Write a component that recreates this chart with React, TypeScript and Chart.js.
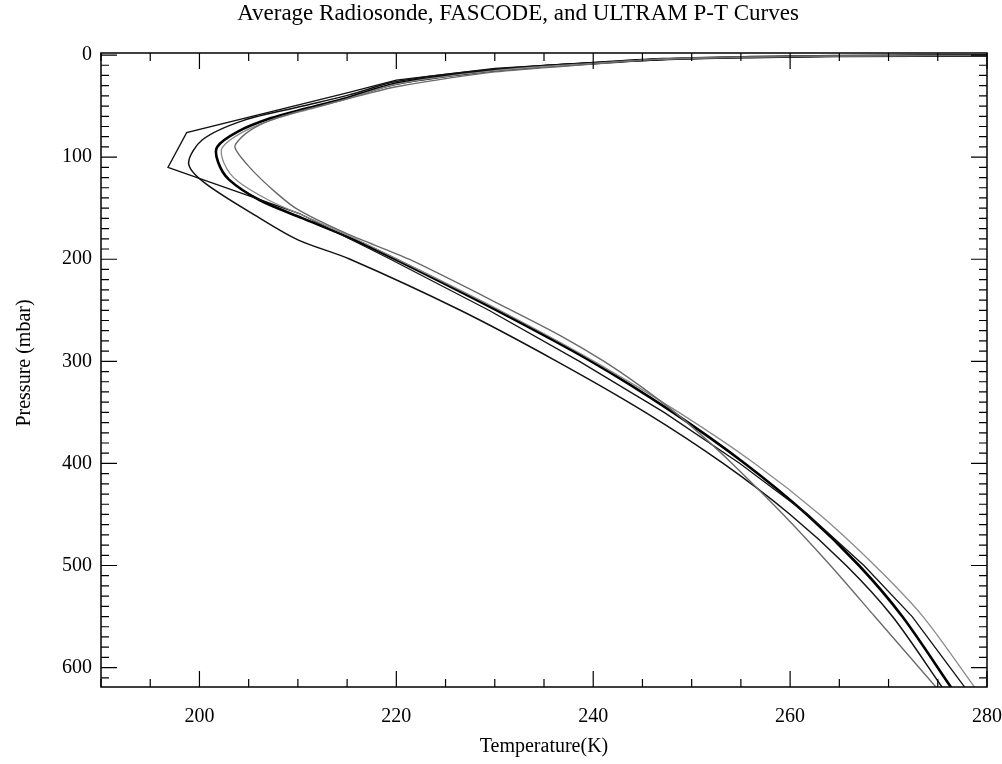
import React, { useEffect, useRef } from "react";
import { Chart, registerables } from "chart.js";

Chart.register(...registerables);

const TITLE = "Average Radiosonde, FASCODE, and ULTRAM P-T Curves";
const X_TITLE = "Temperature(K)";
const Y_TITLE = "Pressure (mbar)";

const xTickLabels = [200, 220, 240, 260, 280];
const yTickLabels = [0, 100, 200, 300, 400, 500, 600];

// FASCODE (piecewise levels)
const fascodeP = [0.3, 1, 2, 4, 7.2, 13, 24.5, 37, 76, 110, 155, 200, 250, 300, 350, 400, 450, 500, 550, 620];
const fascodeT = [281, 266, 257, 248, 240, 230, 220, 215, 198.7, 196.8, 210.1, 219.4, 229.4, 238.6, 247.2, 254.9, 261.8, 267.5, 272.4, 277.8];

// ULTRAM A (smooth, coldest in upper troposphere)
const ultramAP = [0.3, 1, 2, 4, 7.6, 14, 26, 39, 50, 64, 83, 106, 125, 159, 181, 200, 250, 300, 350, 400, 450, 500, 550, 620];
const ultramAT = [281, 265.5, 256.5, 247.5, 240, 230, 220, 215.2, 210.5, 204.5, 200.3, 198.9, 200.5, 206, 210, 215.3, 226.5, 236.3, 245.3, 253.2, 260.0, 265.7, 270.4, 275.5];

// Average radiosonde (thick)
const radioP = [0.3, 1, 2, 4, 8, 15, 28, 42, 52, 62, 75, 90, 105, 122, 142, 160, 178, 200, 250, 300, 350, 400, 450, 500, 550, 620];
const radioT = [281, 265, 256, 247, 240, 230, 220, 215, 211, 207.2, 203.9, 201.8, 201.9, 203, 206.1, 210.5, 215, 219.9, 230.2, 239.8, 248.1, 255.4, 261.7, 267.0, 271.4, 276.4];

// ULTRAM B (sharp minimum, warm aloft)
const ultramBP = [0.3, 1, 2, 4, 8.8, 16.5, 31, 39, 47, 56, 65, 77, 90, 110, 135, 152, 176, 200, 250, 275, 300, 325, 350, 375, 400, 450, 500, 550, 620];
const ultramBT = [281, 264, 255, 246.5, 240, 230, 220, 216.6, 213.4, 209.8, 206.9, 204.7, 203.6, 205.1, 207.8, 210.1, 215.2, 221.3, 231.7, 236.7, 241.1, 244.9, 248.3, 251.3, 254.1, 259.3, 264.1, 268.6, 274.9];

// ULTRAM C (near radiosonde aloft, warmest near surface)
const ultramCP = [0.3, 1, 2, 4, 8.2, 15.3, 28.5, 43, 53, 63, 76, 91, 106, 123, 142, 160, 178, 200, 250, 300, 350, 400, 450, 500, 550, 620];
const ultramCT = [281, 265, 256, 247, 240, 230, 220, 215, 211.2, 207.5, 204.3, 202.3, 202.5, 203.8, 207, 211.2, 215.4, 220.1, 230.5, 240.1, 248.7, 256.4, 263.0, 268.6, 273.5, 278.8];

const FONT = "'Liberation Serif', 'Times New Roman', serif";

const toPts = (t: number[], p: number[]) => t.map((v, i) => ({ x: v, y: p[i] }));

const framePlugin = {
  id: "idlFrame",
  afterDraw(chart: any) {
    const { ctx, chartArea } = chart;
    const { left, right, top, bottom } = chartArea;
    const xs = chart.scales.x;
    const ys = chart.scales.y;
    ctx.save();
    ctx.strokeStyle = "#000";
    ctx.lineWidth = 1.5;
    ctx.strokeRect(left, top, right - left, bottom - top);
    ctx.lineWidth = 1.2;
    ctx.beginPath();
    for (let v = 190; v <= 280; v += 5) {
      const px = xs.getPixelForValue(v);
      const len = v % 20 === 0 ? 16 : 8;
      ctx.moveTo(px, bottom);
      ctx.lineTo(px, bottom - len);
      ctx.moveTo(px, top);
      ctx.lineTo(px, top + len);
    }
    for (let v = 0; v <= 610; v += 10) {
      const py = ys.getPixelForValue(v);
      const len = v % 100 === 0 ? 16 : 8;
      ctx.moveTo(left, py);
      ctx.lineTo(left + len, py);
      ctx.moveTo(right, py);
      ctx.lineTo(right - len, py);
    }
    ctx.stroke();

    ctx.fillStyle = "#000";
    ctx.textAlign = "center";
    ctx.textBaseline = "middle";
    ctx.font = `23px ${FONT}`;
    ctx.fillText(TITLE, 518, 14);
    ctx.font = `20px ${FONT}`;
    ctx.fillText(X_TITLE, (left + right) / 2, 747);
    ctx.translate(25, 363);
    ctx.rotate(-Math.PI / 2);
    ctx.fillText(Y_TITLE, 0, 0);
    ctx.restore();
  },
};

export default function App() {
  const ref = useRef<HTMLCanvasElement | null>(null);
  useEffect(() => {
    if (!ref.current) return;
    const mk = (label: string, t: number[], p: number[], color: string, width: number, tension: number) => ({
      label,
      data: toPts(t, p),
      borderColor: color,
      backgroundColor: color,
      borderWidth: width,
      pointRadius: 0,
      tension,
      fill: false,
    });
    const chart = new Chart(ref.current, {
      type: "line",
      data: {
        datasets: [
          mk("ULTRAM B", ultramBT, ultramBP, "#6a6a6a", 1.4, 0.25),
          mk("ULTRAM C", ultramCT, ultramCP, "#8a8a8a", 1.3, 0.3),
          mk("ULTRAM A", ultramAT, ultramAP, "#111", 1.5, 0.3),
          mk("FASCODE", fascodeT, fascodeP, "#111", 1.3, 0),
          mk("Radiosonde", radioT, radioP, "#000", 2.6, 0.3),
        ],
      },
      options: {
        responsive: false,
        animation: false,
        layout: { padding: { left: 0, right: 15, top: 53, bottom: 0 } },
        plugins: { legend: { display: false }, title: { display: false }, tooltip: { enabled: false } },
        scales: {
          x: {
            type: "linear",
            min: 190,
            max: 280,
            afterBuildTicks: (s: any) => {
              s.ticks = xTickLabels.map((v) => ({ value: v }));
            },
            afterFit: (s: any) => {
              s.height = 77;
              s.paddingLeft = 0;
              s.paddingRight = 0;
            },
            grid: { display: false, drawTicks: false },
            border: { display: false },
            ticks: { color: "#000", font: { family: FONT, size: 20 }, padding: 18, maxRotation: 0 },
          },
          y: {
            type: "linear",
            reverse: true,
            min: -2,
            max: 619,
            afterBuildTicks: (s: any) => {
              s.ticks = yTickLabels.map((v) => ({ value: v }));
            },
            afterFit: (s: any) => {
              s.width = 101;
              s.paddingTop = 0;
              s.paddingBottom = 0;
            },
            grid: { display: false, drawTicks: false },
            border: { display: false },
            ticks: { color: "#000", font: { family: FONT, size: 20 }, padding: 9 },
          },
        },
      },
      plugins: [framePlugin],
    });
    return () => chart.destroy();
  }, []);
  return (
    <div style={{ position: "absolute", left: 0, top: 0, width: 1002, height: 764, background: "#fff" }}>
      <canvas ref={ref} width={1002} height={764} style={{ display: "block" }} />
    </div>
  );
}
